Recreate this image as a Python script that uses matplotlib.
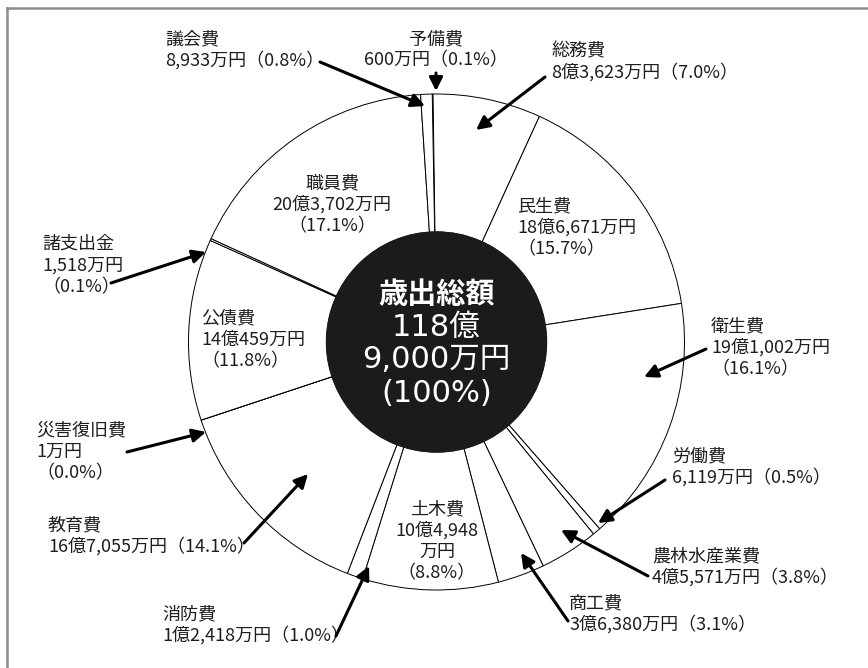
import matplotlib
matplotlib.use("Agg")
import matplotlib.pyplot as plt
from matplotlib.patches import Circle
from matplotlib.lines import Line2D

plt.rcParams['font.family'] = ['Noto Sans CJK JP', 'DejaVu Sans']

# ---- data (clockwise from the top) ----
categories = ['予備費', '総務費', '民生費', '衛生費', '労働費', '農林水産業費', '商工費',
              '土木費', '消防費', '教育費', '災害復旧費', '公債費', '諸支出金', '職員費', '議会費']
amounts_man_yen = [600, 83623, 186671, 191002, 6119, 45571, 36380,
                   104948, 12418, 167055, 1, 140459, 1518, 203702, 8933]
amount_labels = ['600万円', '8億3,623万円', '18億6,671万円', '19億1,002万円', '6,119万円',
                 '4億5,571万円', '3億6,380万円', '10億4,948万円', '1億2,418万円',
                 '16億7,055万円', '1万円', '14億459万円', '1,518万円', '20億3,702万円', '8,933万円']
pct_labels = ['0.1%', '7.0%', '15.7%', '16.1%', '0.5%', '3.8%', '3.1%',
              '8.8%', '1.0%', '14.1%', '0.0%', '11.8%', '0.1%', '17.1%', '0.8%']
total_lines = ['歳出総額', '118億', '9,000万円', '(100%)']

# ---- layout (pixel coordinates of the 868x668 picture) ----
W, H = 868, 668
CX, CY, R = 436.5, 342.0, 248.0
R_IN = 110.0


def P(x, y):
    return ((x - CX) / R, (CY - y) / R)


def label_lines(i, style):
    name, amt, pct = categories[i], amount_labels[i], pct_labels[i]
    if style == 'two':
        return [name, amt + '（' + pct + '）']
    if style == 'three':
        return [name, amt, '（' + pct + '）']
    if style == 'split':
        return [name, amt.replace('万円', ''), '万円', '（' + pct + '）']
    return [name]

# category -> (x, first line y, align, style, arrow start, arrow tip)
layout = {
    '議会費': (165, 39, 'left', 'two', (320, 62), (425, 106)),
    '予備費': (436, 39, 'center', 'two', (436, 73), (436, 91)),
    '総務費': (551, 51, 'left', 'two', (545, 77), (476, 130)),
    '職員費': (332, 183, 'center', 'three', None, None),
    '民生費': (517, 206, 'left', 'three', None, None),
    '諸支出金': (42, 244, 'left', 'three', (111, 283), (206, 252)),
    '公債費': (201, 318, 'left', 'three', None, None),
    '衛生費': (711, 326, 'left', 'three', (706, 349), (644, 377)),
    '災害復旧費': (36, 430, 'left', 'three', (127, 452), (206, 432)),
    '労働費': (672, 456, 'left', 'two', (665, 480), (598, 523)),
    '教育費': (48, 525, 'left', 'two', (244, 543), (308, 474)),
    '土木費': (437, 509, 'center', 'split', None, None),
    '農林水産業費': (652, 556, 'left', 'two', (648, 576), (561, 530)),
    '商工費': (569, 603, 'left', 'two', (568, 621), (521, 553)),
    '消防費': (162, 614, 'left', 'two', (336, 636), (369, 566)),
}
LINE_GAP = 21.5

fig = plt.figure(figsize=(W / 100, H / 100), dpi=100)
ax = fig.add_axes([0, 0, 1, 1])

# start so that 総務費 begins just left of 12 o'clock
total = sum(amounts_man_yen)
start = 90.8 + amounts_man_yen[0] / total * 360.0
ax.pie(amounts_man_yen, startangle=start, counterclock=False, radius=1.0,
       wedgeprops=dict(width=1.0 - R_IN / R, facecolor='white', edgecolor='black',
                       linewidth=0.7))
ax.add_patch(Circle((0, 0), R_IN / R, facecolor='#1c1a1a', edgecolor='#1c1a1a', zorder=5))

ax.set_xlim(-CX / R, (W - CX) / R)
ax.set_ylim(-(H - CY) / R, CY / R)
ax.set_aspect('equal')
ax.axis('off')

# centre text
cy_lines = [294, 327, 360, 393]
for k, (t, yy) in enumerate(zip(total_lines, cy_lines)):
    if k == 0:
        ax.text(*P(CX, yy), t, color='white', fontsize=21, ha='center', va='center',
                fontweight='bold', zorder=6)
    else:
        ax.text(*P(CX, yy), t, color='white', fontsize=22, ha='center', va='center',
                family=['DejaVu Sans', 'Noto Sans CJK JP'], zorder=6)

# labels and arrows
for i, name in enumerate(categories):
    x, y0, ha, style, a_from, a_to = layout[name]
    for k, line in enumerate(label_lines(i, style)):
        ax.text(*P(x, y0 + k * LINE_GAP), line, fontsize=13, ha=ha, va='center',
                color='#1e1e1e', zorder=7)
    if a_from is not None:
        ax.annotate('', xy=P(*a_to), xytext=P(*a_from),
                    arrowprops=dict(arrowstyle='-|>', color='black', lw=2.2,
                                    mutation_scale=20, shrinkA=0, shrinkB=0),
                    zorder=8)

# grey frame (top and left)
fig.add_artist(Line2D([7 / W, 1.0], [1 - 8 / H, 1 - 8 / H], color='#8c8c8c', lw=1.8))
fig.add_artist(Line2D([7 / W, 7 / W], [0.0, 1 - 8 / H], color='#8c8c8c', lw=1.8))

fig.savefig('out.png', dpi=100, facecolor='white')
